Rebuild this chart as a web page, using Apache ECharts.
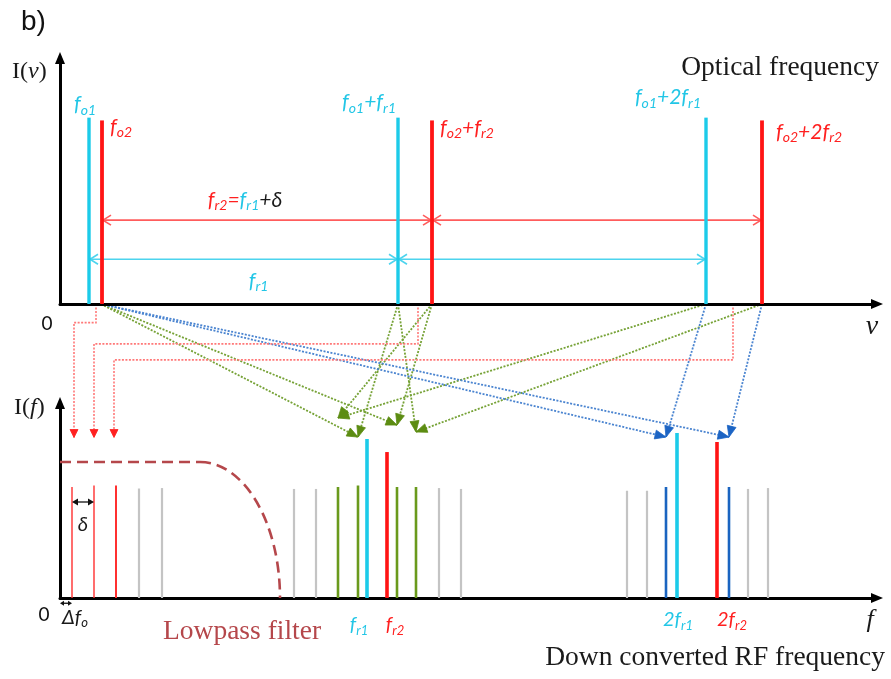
<!DOCTYPE html>
<html>
<head>
<meta charset="utf-8">
<title>Dual-comb down conversion</title>
<script src="https://cdn.jsdelivr.net/npm/echarts@6/dist/echarts.min.js"></script>
<style>
  html, body { margin: 0; padding: 0; background: #fff; }
  #chart { width: 891px; height: 679px; }
</style>
</head>
<body>
<div id="chart"></div>
<script>
// ---- Optical spectrum (upper panel): two combs, frequency in arbitrary units along ν ----
const comb1Freq  = [29, 338, 646];            // f_o1, f_o1+f_r1, f_o1+2f_r1
const comb1Level = [1.0, 1.0, 1.0];
const comb1Names = ['{c|f}{cs|o1}', '{c|f}{cs|o1}{c|+f}{cs|r1}', '{c|f}{cs|o1}{c|+2f}{cs|r1}'];
const comb2Freq  = [42, 372, 702];            // f_o2, f_o2+f_r2, f_o2+2f_r2
const comb2Level = [0.985, 0.985, 0.985];
const comb2Names = ['{r|f}{rs|o2}', '{r|f}{rs|o2}{r|+f}{rs|r2}', '{r|f}{rs|o2}{r|+2f}{rs|r2}'];
const spacingLevelR = 0.45;                   // f_r2 spacing markers
const spacingLevelC = 0.24;                   // f_r1 spacing markers
const spacingNameR = '{r|f}{rs|r2}{r|=}{c|f}{cs|r1}{k|+δ}';
const spacingNameC = '{c|f}{cs|r1}';

// ---- Down-converted RF spectrum (lower panel) ----
const rfOffsetFreq  = [12, 34, 56];           // Δf_o, Δf_o+δ, Δf_o+2δ
const rfOffsetLevel = [0.74, 0.75, 0.75];
const rfGrayFreq  = [79, 102, 234, 256, 379, 401, 567, 587, 688, 708];
const rfGrayLevel = [0.73, 0.733, 0.727, 0.727, 0.733, 0.727, 0.715, 0.715, 0.727, 0.733];
const rfGreenFreq  = [278, 298, 337, 356];
const rfGreenLevel = [0.74, 0.75, 0.74, 0.74];
const rfBlueFreq  = [606, 669];
const rfBlueLevel = [0.74, 0.74];
const rfCombCFreq  = [307, 617];              // f_r1, 2f_r1
const rfCombCLevel = [1.06, 1.10];
const rfCombCNames = ['{c|f}{cs|r1}', '{c|2f}{cs|r1}'];
const rfCombRFreq  = [327, 657];              // f_r2, 2f_r2
const rfCombRLevel = [0.973, 1.04];
const rfCombRNames = ['{r|f}{rs|r2}', '{r|2f}{rs|r2}'];
const lowpassLevel = 0.907;
const lowpassEdge = 140;
const lowpassCutoff = 220;
const deltaLevel = 0.64;
const offsetMarkLevel = -0.035;

// ---- Mixing paths: [optical ν, RF f, RF arrow level] ----
const greenLinks = [
  [41, 298, 1.073], [41, 337, 1.153],
  [338, 298, 1.073], [338, 356, 1.107],
  [372, 278, 1.20], [372, 337, 1.153],
  [646, 278, 1.20], [702, 356, 1.107]
];
const blueLinks = [
  [41, 606, 1.073], [41, 669, 1.073],
  [646, 606, 1.073], [702, 669, 1.073]
];
// [optical ν, drop level below the ν axis, RF f, RF arrow level]
const offsetLinks = [
  [36, -0.10, 14, 1.07],
  [358, -0.214, 34, 1.07],
  [673, -0.30, 54, 1.07]
];

// ---- styling ----
const CYAN = '#1ccbe9', RED = '#ff1414', GRAY = '#c4c4c4', GREEN = '#6a9a1c', BLUE = '#1a64c0';
const CYAN_T = '#22c6e6', RED_T = '#ff2020';
const ITAL = 'Lato, "Open Sans", "DejaVu Sans", sans-serif';
const SERIF = '"Liberation Serif", "DejaVu Serif", serif';
const tok = (fill, size, lh, va) => ({ fill: fill, fontFamily: ITAL, fontStyle: 'italic', fontSize: size, lineHeight: lh, verticalAlign: va });
const RICH = {
  c: tok(CYAN_T, 21, 25, 'middle'), cs: tok(CYAN_T, 14, 14, 'bottom'),
  r: tok(RED_T, 21, 25, 'middle'),  rs: tok(RED_T, 14, 14, 'bottom'),
  k: tok('#1a1a1a', 21, 25, 'middle'), ks: tok('#1a1a1a', 14, 14, 'bottom')
};
const RICH_SM = {
  c: tok(CYAN_T, 20, 24, 'middle'), cs: tok(CYAN_T, 13, 13, 'bottom'),
  r: tok(RED_T, 20, 24, 'middle'),  rs: tok(RED_T, 13, 13, 'bottom'),
  k: tok('#1a1a1a', 20, 24, 'middle'), ks: tok('#1a1a1a', 13, 13, 'bottom')
};

const chart = echarts.init(document.getElementById('chart'));

// vertical spectral lines drawn from the axis baseline up to their level
function stems(gridIndex, freqs, levels, color, width, names, place, rich) {
  return {
    type: 'custom', xAxisIndex: gridIndex, yAxisIndex: gridIndex, clip: false, silent: true,
    data: freqs.map((f, i) => [f, levels[i]]),
    renderItem(params, api) {
      const i = params.dataIndex;
      const a = api.coord([api.value(0), 0]);
      const b = api.coord([api.value(0), api.value(1)]);
      const w = Array.isArray(width) ? width[i] : width;
      const kids = [{ type: 'line', shape: { x1: a[0], y1: a[1], x2: b[0], y2: b[1] }, style: { stroke: color, lineWidth: w } }];
      if (names) {
        const p = place[i];
        kids.push({ type: 'text', x: b[0] + p.dx, y: (p.base ? a[1] : b[1]) + p.dy,
          style: { text: names[i], rich: rich || RICH, align: p.align, verticalAlign: 'middle' } });
      }
      return { type: 'group', children: kids };
    }
  };
}

// horizontal spacing markers with open chevrons at both ends
function spacings(freqs, level, color, name, namePlace) {
  const spans = [];
  for (let i = 0; i + 1 < freqs.length; i++) spans.push([freqs[i], freqs[i + 1], level]);
  return {
    type: 'custom', xAxisIndex: 0, yAxisIndex: 0, clip: false, silent: true,
    data: spans,
    renderItem(params, api) {
      const a = api.coord([api.value(0), api.value(2)]);
      const b = api.coord([api.value(1), api.value(2)]);
      const s = { stroke: color, lineWidth: 1.6, fill: null };
      const kids = [
        { type: 'line', shape: { x1: a[0], y1: a[1], x2: b[0], y2: b[1] }, style: s },
        { type: 'polyline', shape: { points: [[a[0] + 9, a[1] - 5], [a[0] + 1, a[1]], [a[0] + 9, a[1] + 5]] }, style: s },
        { type: 'polyline', shape: { points: [[b[0] - 9, b[1] - 5], [b[0] - 1, b[1]], [b[0] - 9, b[1] + 5]] }, style: s }
      ];
      if (params.dataIndex === 0) {
        kids.push({ type: 'text', x: (a[0] + b[0]) / 2 + namePlace.dx, y: a[1] + namePlace.dy,
          style: { text: name, rich: RICH, align: 'center', verticalAlign: 'middle' } });
      }
      return { type: 'group', children: kids };
    }
  };
}

// small double-headed measuring arrows in the RF panel
const measureSeries = {
  type: 'custom', xAxisIndex: 1, yAxisIndex: 1, clip: false, silent: true,
  data: [[rfOffsetFreq[0], rfOffsetFreq[1], deltaLevel], [0, rfOffsetFreq[0], offsetMarkLevel]],
  renderItem(params, api) {
    const a = api.coord([api.value(0), api.value(2)]);
    const b = api.coord([api.value(1), api.value(2)]);
    const big = params.dataIndex === 0;
    const L = big ? 6 : 4, H = big ? 3.5 : 2.5;
    const kids = [
      { type: 'line', shape: { x1: a[0] + 2, y1: a[1], x2: b[0] - 2, y2: b[1] }, style: { stroke: '#111', lineWidth: 1.3 } },
      { type: 'polygon', shape: { points: [[a[0], a[1]], [a[0] + L, a[1] - H], [a[0] + L, a[1] + H]] }, style: { fill: '#111' } },
      { type: 'polygon', shape: { points: [[b[0], b[1]], [b[0] - L, b[1] - H], [b[0] - L, b[1] + H]] }, style: { fill: '#111' } }
    ];
    if (big) {
      kids.push({ type: 'text', x: (a[0] + b[0]) / 2, y: a[1] + 23, style: { text: '{k|δ}', rich: RICH_SM, align: 'center', verticalAlign: 'middle' } });
    } else {
      kids.push({ type: 'text', x: b[0] - 10, y: a[1] + 14, style: { text: '{k|Δf}{ks|o}', rich: RICH_SM, align: 'left', verticalAlign: 'middle' } });
    }
    return { type: 'group', children: kids };
  }
};

// low-pass filter response: flat pass band, quarter-ellipse roll-off to the cutoff
const lowpassSeries = {
  type: 'custom', xAxisIndex: 1, yAxisIndex: 1, clip: false, silent: true,
  data: [[lowpassEdge, lowpassCutoff, lowpassLevel]],
  renderItem(params, api) {
    const s = api.coord([0, api.value(2)]);
    const e = api.coord([api.value(0), api.value(2)]);
    const c = api.coord([api.value(1), 0]);
    const k = 0.5523;
    const st = { stroke: '#b5474b', lineWidth: 2.6, lineDash: [11, 6], fill: null };
    return { type: 'group', children: [
      { type: 'line', shape: { x1: s[0], y1: s[1], x2: e[0], y2: e[1] }, style: st },
      { type: 'bezierCurve', shape: { x1: e[0], y1: e[1], cpx1: e[0] + k * (c[0] - e[0]), cpy1: e[1],
        cpx2: c[0], cpy2: c[1] - k * (c[1] - e[1]), x2: c[0], y2: c[1] }, style: st }
    ] };
  }
};

function axisX(gridIndex) {
  return { type: 'value', gridIndex: gridIndex, min: 0, max: 817,
    axisLine: { show: true, onZero: false, symbol: ['none', 'triangle'], symbolSize: [10, 12], lineStyle: { color: '#000', width: 3 } },
    axisTick: { show: false }, axisLabel: { show: false }, splitLine: { show: false } };
}
function axisY(gridIndex, max) {
  return { type: 'value', gridIndex: gridIndex, min: 0, max: max,
    axisLine: { show: true, onZero: false, symbol: ['none', 'triangle'], symbolSize: [10, 12], lineStyle: { color: '#000', width: 3 } },
    axisTick: { show: false }, axisLabel: { show: false }, splitLine: { show: false } };
}

const baseOption = {
  animation: false,
  backgroundColor: '#fff',
  grid: [
    { left: 60, right: 14, top: 58, bottom: 375 },
    { left: 60, right: 14, top: 403, bottom: 81 }
  ],
  xAxis: [axisX(0), axisX(1)],
  yAxis: [axisY(0, 1.32), axisY(1, 1.30)],
  series: [
    spacings(comb2Freq, spacingLevelR, '#ff5c5c', spacingNameR, { dx: -22, dy: -20 }),
    spacings(comb1Freq, spacingLevelC, '#4dd4ee', spacingNameC, { dx: 15, dy: 22 }),
    stems(0, comb1Freq, comb1Level, CYAN, 3.4, comb1Names,
      [{ dx: -4, dy: -13, align: 'center' }, { dx: -2, dy: -15, align: 'right' }, { dx: -5, dy: -20, align: 'right' }]),
    stems(0, comb2Freq, comb2Level, RED, 3.8, comb2Names,
      [{ dx: 8, dy: 7, align: 'left' }, { dx: 8, dy: 8, align: 'left' }, { dx: 14, dy: 12, align: 'left' }]),
    lowpassSeries,
    stems(1, rfOffsetFreq, rfOffsetLevel, '#ff3030', [1.4, 1.4, 2], null, null),
    stems(1, rfGrayFreq, rfGrayLevel, GRAY, 2.2, null, null),
    stems(1, rfGreenFreq, rfGreenLevel, GREEN, 2.6, null, null),
    stems(1, rfBlueFreq, rfBlueLevel, BLUE, 2.6, null, null),
    stems(1, rfCombCFreq, rfCombCLevel, CYAN, 3.6, rfCombCNames,
      [{ dx: -8, dy: 27, align: 'center', base: true }, { dx: 1, dy: 22, align: 'center', base: true }], RICH_SM),
    stems(1, rfCombRFreq, rfCombRLevel, RED, 3.6, rfCombRNames,
      [{ dx: 8, dy: 27, align: 'center', base: true }, { dx: 15, dy: 22, align: 'center', base: true }], RICH_SM),
    measureSeries
  ]
};
chart.setOption(baseOption);

// ---- static annotation texts ----
const texts = [
  { type: 'text', x: 21, y: 22, style: { text: 'b)', font: '28px "Liberation Sans", Arial, sans-serif', fill: '#111', align: 'left', verticalAlign: 'middle' } },
  { type: 'text', x: 879, y: 68, style: { text: 'Optical frequency', font: '27.5px ' + SERIF, fill: '#1a1a1a', align: 'right', verticalAlign: 'middle' } },
  { type: 'text', x: 885, y: 658, style: { text: 'Down converted RF frequency', font: '27.5px ' + SERIF, fill: '#1a1a1a', align: 'right', verticalAlign: 'middle' } },
  { type: 'text', x: 163, y: 632, style: { text: 'Lowpass filter', font: '27.5px ' + SERIF, fill: '#b5474b', align: 'left', verticalAlign: 'middle' } },
  { type: 'text', x: 12, y: 72, style: { text: '{n|I(}{i|ν}{n|)}', align: 'left', verticalAlign: 'middle',
    rich: { n: { fontFamily: SERIF, fontSize: 24, fill: '#1a1a1a' }, i: { fontFamily: SERIF, fontStyle: 'italic', fontSize: 24, fill: '#1a1a1a' } } } },
  { type: 'text', x: 14, y: 408, style: { text: '{n|I(}{i|f}{n|)}', align: 'left', verticalAlign: 'middle',
    rich: { n: { fontFamily: SERIF, fontSize: 24, fill: '#1a1a1a' }, i: { fontFamily: SERIF, fontStyle: 'italic', fontSize: 24, fill: '#1a1a1a' } } } },
  { type: 'text', x: 47, y: 324, style: { text: '0', font: '19px Lato, sans-serif', fill: '#111', align: 'center', verticalAlign: 'middle' } },
  { type: 'text', x: 44, y: 615, style: { text: '0', font: '19px Lato, sans-serif', fill: '#111', align: 'center', verticalAlign: 'middle' } },
  { type: 'text', x: 872, y: 327, style: { text: 'ν', font: 'italic 28px ' + SERIF, fill: '#1a1a1a', align: 'center', verticalAlign: 'middle' } },
  { type: 'text', x: 870, y: 620, style: { text: 'f', font: 'italic 26px ' + SERIF, fill: '#1a1a1a', align: 'center', verticalAlign: 'middle' } }
];

// ---- mixing paths between the panels, placed through both grids' scales ----
const P0 = (x, y) => chart.convertToPixel({ gridIndex: 0 }, [x, y]);
const P1 = (x, y) => chart.convertToPixel({ gridIndex: 1 }, [x, y]);
function head(tip, from, len, half, color) {
  const dx = tip[0] - from[0], dy = tip[1] - from[1];
  const d = Math.hypot(dx, dy), ux = dx / d, uy = dy / d;
  const bx = tip[0] - ux * len, by = tip[1] - uy * len;
  return { type: 'polygon', shape: { points: [[tip[0], tip[1]], [bx - uy * half, by + ux * half], [bx + uy * half, by - ux * half]] },
    style: { fill: color, stroke: color, lineWidth: 0.8 } };
}
const links = [];
greenLinks.forEach(([nu, f, lv]) => {
  const a = P0(nu, 0), b = P1(f, lv);
  links.push({ type: 'polyline', shape: { points: [a, b] }, style: { stroke: '#76a236', lineWidth: 1.8, lineDash: [2, 1.5], fill: null } });
  links.push(head(b, a, 11, 4.5, '#5c8c12'));
});
blueLinks.forEach(([nu, f, lv]) => {
  const a = P0(nu, 0), b = P1(f, lv);
  links.push({ type: 'polyline', shape: { points: [a, b] }, style: { stroke: '#4a84d0', lineWidth: 1.8, lineDash: [2, 1.5], fill: null } });
  links.push(head(b, a, 11, 4.5, '#1c64c4'));
});
offsetLinks.forEach(([nu, drop, f, lv]) => {
  const a = P0(nu, 0), m = P0(nu, drop), b = P1(f, lv);
  links.push({ type: 'polyline', shape: { points: [a, m, [b[0], m[1]], b] }, style: { stroke: '#ff7878', lineWidth: 1.6, lineDash: [2, 1.5], fill: null } });
  links.push(head(b, [b[0], m[1]], 8, 4, '#ff2020'));
});

chart.setOption({ graphic: { elements: texts.concat(links) } });
</script>
</body>
</html>
